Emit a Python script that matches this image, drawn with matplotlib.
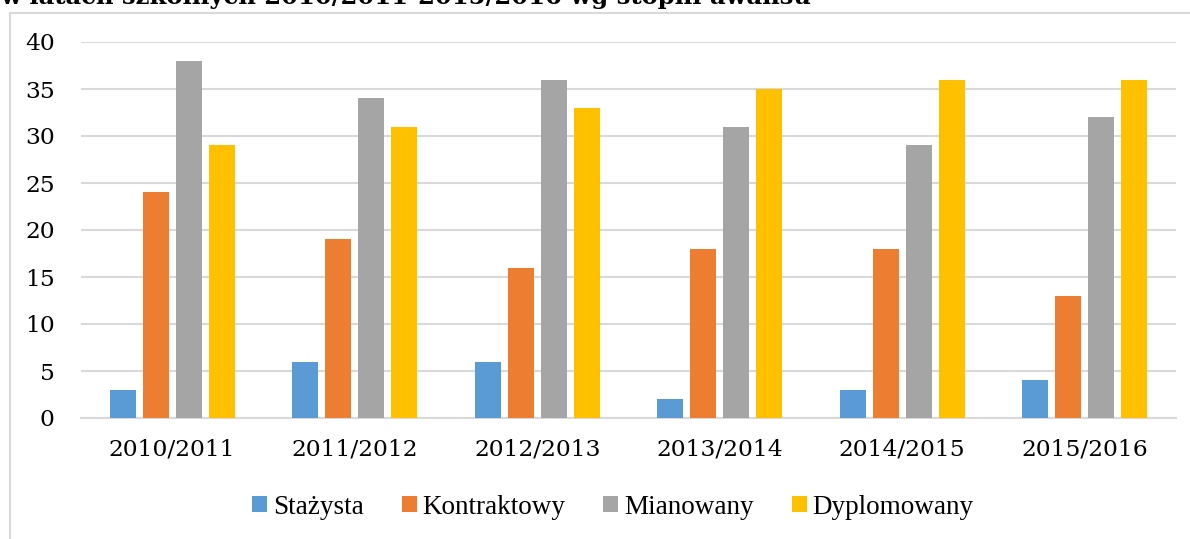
import matplotlib
matplotlib.use("Agg")
import matplotlib.pyplot as plt
import numpy as np
from matplotlib.patches import Rectangle

categories = ["2010/2011", "2011/2012", "2012/2013", "2013/2014", "2014/2015", "2015/2016"]
series_names = ["Stażysta", "Kontraktowy", "Mianowany", "Dyplomowany"]
stazysta = [3, 6, 6, 2, 3, 4]
kontraktowy = [24, 19, 16, 18, 18, 13]
mianowany = [38, 34, 36, 31, 29, 32]
dyplomowany = [29, 31, 33, 35, 36, 36]
colors = ["#5B9BD5", "#ED7D31", "#A5A5A5", "#FFC000"]
yticks = [0, 5, 10, 15, 20, 25, 30, 35, 40]
title = "w latach szkolnych 2010/2011-2015/2016 wg stopni awansu"

W, H = 1190, 539
fig = plt.figure(figsize=(W/100, H/100), dpi=100)

# chart frame (extends beyond the image on right and bottom)
fig.patches.append(Rectangle((10/W, -0.1), 1.2, (H-13)/H + 0.1, transform=fig.transFigure,
                             fill=False, edgecolor="#D9D9D9", linewidth=1.5, zorder=0))

fig.text(0/W, 1 - 4/H, title, fontsize=17.5, fontweight="bold", family="DejaVu Serif",
         va="baseline", ha="left", color="#000000")

ax = fig.add_axes([81/W, 1 - 418/H, (1176-81)/W, (418-42)/H])
x = np.arange(len(categories))
data = [stazysta, kontraktowy, mianowany, dyplomowany]
bw = 0.142
step = 0.181
for i, (name, vals, c) in enumerate(zip(series_names, data, colors)):
    ax.bar(x + (i - 1.5) * step, vals, width=bw, color=c, label=name, zorder=3)

ax.set_xlim(-0.5, len(categories) - 0.5)
ax.set_ylim(0, 40)
ax.set_yticks(yticks)
ax.set_xticks(x)
ax.set_xticklabels(categories)
ax.grid(axis="y", color="#D9D9D9", linewidth=1.5, zorder=0)
for s in ["top", "right", "left"]:
    ax.spines[s].set_visible(False)
ax.spines["bottom"].set_color("#D9D9D9")
ax.spines["bottom"].set_linewidth(1.5)
ax.tick_params(axis="both", length=0, labelsize=16.8)
ax.tick_params(axis="y", pad=19)
ax.tick_params(axis="x", pad=15)
for lbl in ax.get_xticklabels() + ax.get_yticklabels():
    lbl.set_family("DejaVu Serif")
    lbl.set_color("#000000")

leg = fig.legend(loc="center", bbox_to_anchor=(613/W, 1 - 507/H), ncol=4, frameon=False,
                 prop={"family": "Liberation Serif", "size": 19.5},
                 handlelength=0.55, handleheight=0.55, handletextpad=0.22, columnspacing=1.4)

fig.savefig("out.png", dpi=100)
